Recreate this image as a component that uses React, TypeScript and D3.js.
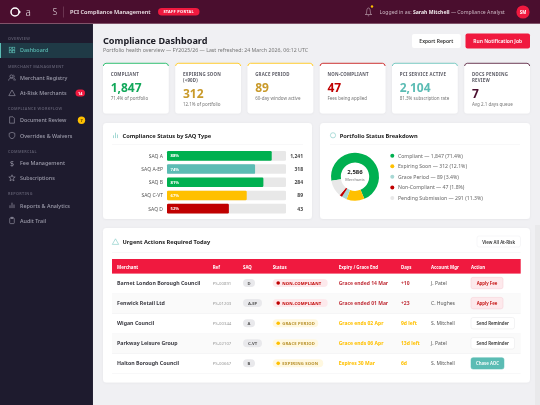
import React from "react";
import * as d3 from "d3";

const FONT = "'Noto Sans', 'Open Sans', sans-serif";

// ---- data ----
const navSections = ["OVERVIEW", "MERCHANT MANAGEMENT", "COMPLIANCE WORKFLOW", "COMMERCIAL", "REPORTING"];
const navItems = ["Dashboard", "Merchant Registry", "At-Risk Merchants", "Document Review", "Overrides & Waivers", "Fee Management", "Subscriptions", "Reports & Analytics", "Audit Trail"];
const navIcons = ["grid", "users", "tri", "doc", "shield", "dollar", "star", "bars", "clip"];

const kpiLabels = [["COMPLIANT"], ["EXPIRING SOON", "(<90D)"], ["GRACE PERIOD"], ["NON-COMPLIANT"], ["PCI SERVICE ACTIVE"], ["DOCS PENDING", "REVIEW"]];
const kpiValues = ["1,847", "312", "89", "47", "2,104", "7"];
const kpiSubs = ["71.4% of portfolio", "12.1% of portfolio", "60-day window active", "Fees being applied", "81.3% subscription rate", "Avg 2.1 days queue"];
const kpiBorders = ["#00b050", "#ffc000", "#ffc000", "#c00000", "#5bbcb4", "#4a0e2e"];
const kpiColors = ["#12a85a", "#c99a2a", "#c99a2a", "#c00000", "#5bbcb4", "#4a0e2e"];

const saqTypes = ["SAQ A", "SAQ A-EP", "SAQ B", "SAQ C-VT", "SAQ D"];
const saqPercents = [88, 74, 81, 67, 52];
const saqCounts = ["1,241", "318", "284", "89", "43"];
const saqColors = ["#00b050", "#5bbcb4", "#00b050", "#ffc000", "#c00000"];

const statusNames = ["Compliant", "Expiring Soon", "Grace Period", "Non-Compliant", "Pending Submission"];
const statusCounts = [1847, 312, 89, 47, 291];
const statusPercents = ["71.4%", "12.1%", "3.4%", "1.8%", "11.3%"];
const statusColors = ["#00b050", "#ffc000", "#a8d8d4", "#c00000", "#e8e8e8"];

const tableHeaders = ["Merchant", "Ref", "SAQ", "Status", "Expiry / Grace End", "Days", "Account Mgr", "Action"];
const merchants = ["Barnet London Borough Council", "Fenwick Retail Ltd", "Wigan Council", "Parkway Leisure Group", "Halton Borough Council"];
const refs = ["PS-00891", "PS-01203", "PS-00344", "PS-02107", "PS-00667"];
const saqs = ["D", "A-EP", "A", "C-VT", "B"];
const statuses = ["NON-COMPLIANT", "NON-COMPLIANT", "GRACE PERIOD", "GRACE PERIOD", "EXPIRING SOON"];
const expiries = ["Grace ended 14 Mar", "Grace ended 01 Mar", "Grace ends 02 Apr", "Grace ends 06 Apr", "Expires 30 Mar"];
const days = ["+10", "+23", "9d left", "13d left", "6d"];
const managers = ["J. Patel", "C. Hughes", "S. Mitchell", "J. Patel", "S. Mitchell"];
const actions = ["Apply Fee", "Apply Fee", "Send Reminder", "Send Reminder", "Chase AOC"];

// ---- layout ----
const CRIMSON = "#f0193f";
const PLUM = "#4a0e2e";
const colX = [117, 212.7, 243, 272.7, 338.7, 401, 431, 471];

const kpiX = d3.scaleBand<number>().domain(d3.range(6)).range([103, 530]).paddingInner(0.09);
const barY = d3.scaleBand<string>().domain(saqTypes).range([151, 213.5]).paddingInner(0.27);
const barX = d3.scaleLinear().domain([0, 100]).range([167, 286]);
const rowY = d3.scaleBand<string>().domain(merchants).range([273.6, 374]);
const legendY = d3.scalePoint<string>().domain(statusNames).range([155.7, 198]);

type TP = { x: number; y: number; s: number; c?: string; w?: number; a?: "start" | "middle" | "end"; ls?: number; children: React.ReactNode };
function T({ x, y, s, c = "#333", w = 400, a = "start", ls = 0, children }: TP) {
  return (
    <text x={x} y={y} fontSize={s} fill={c} fontWeight={w} textAnchor={a} letterSpacing={ls} dominantBaseline="central" fontFamily={FONT}>
      {children}
    </text>
  );
}

function Icon({ kind, x, y, c }: { kind: string; x: number; y: number; c: string }) {
  const p = { fill: "none", stroke: c, strokeWidth: 0.6 };
  const g = (ch: React.ReactNode) => <g transform={`translate(${x},${y})`}>{ch}</g>;
  switch (kind) {
    case "grid":
      return g(<g {...p}>{[[-2.8, -2.8], [0.4, -2.8], [-2.8, 0.4], [0.4, 0.4]].map((q, i) => <rect key={i} x={q[0]} y={q[1]} width={2.4} height={2.4} />)}</g>);
    case "users":
      return g(<g {...p}><circle cx={-0.6} cy={-1.6} r={1.5} /><path d="M-3.4 2.6c.3-2 1.4-2.6 2.8-2.6s2.5.6 2.8 2.6M1.4-3c1 .2 1.3 2.2 0 2.9M2.2 .2c.8.4 1.1 1.2 1.2 2.2" /></g>);
    case "tri":
      return g(<path {...p} d="M0-3L3.2 2.6H-3.2Z" strokeLinejoin="round" />);
    case "doc":
      return g(<path {...p} d="M-2.4-3.2H1L2.4-1.8V3.2H-2.4Z" />);
    case "shield":
      return g(<path {...p} d="M0-3.2L2.8-2.2V.2C2.8 1.8 1.4 2.8 0 3.2C-1.4 2.8-2.8 1.8-2.8 .2V-2.2Z" />);
    case "dollar":
      return <text x={x} y={y} fontSize={7} fill={c} textAnchor="middle" dominantBaseline="central" fontFamily={FONT}>$</text>;
    case "star":
      return g(<path {...p} d="M0-3.2L.9-1H3.2L1.4 .5L2 2.9L0 1.6L-2 2.9L-1.4 .5L-3.2-1H-.9Z" />);
    case "bars":
      return g(<g stroke={c} strokeWidth={0.7}><path d="M-2-.2V2.6M0-2.8V2.6M2-1V2.6" /></g>);
    case "clip":
      return g(<g {...p}><rect x={-2.3} y={-2.5} width={4.6} height={5.6} rx={0.8} /><rect x={-1} y={-3.3} width={2} height={1.2} /></g>);
    default:
      return null;
  }
}

function Sidebar() {
  const sectionYs = [38, 66, 108, 151, 193];
  const itemYs = [50, 78, 93, 120, 135.5, 163, 178, 205.5, 220.5];
  return (
    <g>
      <rect x={0} y={24} width={93} height={381} fill="#1e1b2e" />
      <rect x={92.5} y={24} width={0.5} height={381} fill="#2c2a3c" />
      <rect x={0} y={43} width={93} height={15} fill="#1f3a46" />
      <rect x={0} y={43} width={1} height={15} fill="#5bbcb4" />
      {navSections.map((s, i) => <T key={s} x={8} y={sectionYs[i]} s={3.8} c="#5f5d70" w={600} ls={0.35}>{s}</T>)}
      {navItems.map((it, i) => (
        <g key={it}>
          <Icon kind={navIcons[i]} x={12} y={itemYs[i]} c={i === 0 ? "#5bbcb4" : "#9d9cab"} />
          <T x={20} y={itemYs[i]} s={5.4} c={i === 0 ? "#5bbcb4" : "#9d9cab"} w={500}>{it}</T>
        </g>
      ))}
      <rect x={75.5} y={89.5} width={9.5} height={7} rx={3.5} fill={CRIMSON} />
      <T x={80.2} y={93} s={3.8} c="#fff" w={700} a="middle">14</T>
      <circle cx={81.5} cy={120.3} r={3.7} fill="#ffc000" />
      <T x={81.5} y={120.3} s={3.8} c="#4a3500" w={700} a="middle">7</T>
    </g>
  );
}

function Header() {
  return (
    <g>
      <rect x={0} y={0} width={540} height={23.5} fill={PLUM} />
      <rect x={0} y={23} width={540} height={1} fill="#6d3550" opacity={0.6} />
      <circle cx={15} cy={12} r={4} fill="none" stroke="#fff" strokeWidth={1.5} />
      <path d="M19 10.5L21 12L19 13.5Z" fill="#fff" />
      <T x={25.5} y={11.5} s={10} c="#e8dfe4" w={300}>a</T>
      <T x={52.5} y={11.5} s={8.5} c="#e8dfe4" w={300}>S</T>
      <rect x={63} y={6.5} width={0.5} height={11} fill="#8b5a72" />
      <T x={70} y={12} s={5.6} c="#efe6ea" w={600}>PCI Compliance Management</T>
      <rect x={158} y={8} width={41.5} height={7.5} rx={3.75} fill={CRIMSON} />
      <T x={178.7} y={11.9} s={3.9} c="#fff" w={700} a="middle" ls={0.3}>STAFF PORTAL</T>
      <path d="M365 14.5H372M366 14.5C367 13 366.2 8 368.5 8C370.8 8 370 13 371 14.5M367.8 15.8H369.2" fill="none" stroke="#c9b4c0" strokeWidth={0.6} />
      <circle cx={372} cy={6.5} r={1.2} fill="#ffc000" />
      <text x={379.5} y={12} fontSize={5.15} fill="#c9b4c0" dominantBaseline="central" fontFamily={FONT}>
        Logged in as: <tspan fontWeight={700} fill="#f3ecef">Sarah Mitchell</tspan> — Compliance Analyst
      </text>
      <circle cx={523} cy={12} r={6.6} fill={CRIMSON} />
      <T x={523} y={12} s={4.3} c="#fff" w={700} a="middle">SM</T>
    </g>
  );
}

function KpiCards() {
  return (
    <g>
      {kpiValues.map((v, i) => {
        const x = kpiX(i)!;
        const w = kpiX.bandwidth();
        const shift = (kpiLabels[i].length - 1) * 6;
        return (
          <g key={i}>
            <rect x={x} y={63} width={w} height={50.5} rx={3} fill="#fff" filter="url(#soft)" />
            <path d={`M${x + 0.3} 66A3 3 0 0 1 ${x + 3} 63.3H${x + w - 3}A3 3 0 0 1 ${x + w - 0.3} 66`} fill="none" stroke={kpiBorders[i]} strokeWidth={0.8} />
            {kpiLabels[i].map((l, k) => <T key={l} x={x + 7.7} y={74 + k * 6} s={4.4} c="#5c5c66" w={700} ls={0.22}>{l}</T>)}
            <T x={x + 7.7} y={87 + shift} s={12} c={kpiColors[i]} w={700}>{v}</T>
            <T x={x + 7.7} y={98 + shift} s={4.5} c="#777">{kpiSubs[i]}</T>
          </g>
        );
      })}
    </g>
  );
}

function SaqPanel() {
  return (
    <g>
      <rect x={103} y={123} width={209} height={96} rx={3.5} fill="#fff" filter="url(#soft)" />
      <Icon kind="bars" x={115.5} y={135.5} c="#7cc8c2" />
      <T x={122.5} y={135.5} s={5.7} c="#222" w={700}>Compliance Status by SAQ Type</T>
      <rect x={112} y={144} width={191} height={0.4} fill="#eeeeef" />
      {saqTypes.map((t, i) => {
        const y = barY(t)!;
        const h = barY.bandwidth();
        return (
          <g key={t}>
            <T x={163} y={y + h / 2} s={5} c="#555" a="end">{t}</T>
            <rect x={barX(0)} y={y} width={barX(100) - barX(0)} height={h} rx={1.2} fill="#e8e8e8" />
            <rect x={barX(0)} y={y} width={barX(saqPercents[i]) - barX(0)} height={h} rx={1.2} fill={saqColors[i]} />
            <T x={170.5} y={y + h / 2} s={4.2} c="#fff" w={700}>{saqPercents[i]}%</T>
            <T x={303} y={y + h / 2} s={5} c="#444" w={700} a="end">{saqCounts[i]}</T>
          </g>
        );
      })}
    </g>
  );
}

function DonutPanel() {
  const start = (-100 * Math.PI) / 180;
  const pie = d3.pie<number>().sort(null).startAngle(start).endAngle(start + 2 * Math.PI);
  const arc = d3.arc<d3.PieArcDatum<number>>().innerRadius(14.2).outerRadius(24);
  const total = d3.sum(statusCounts);
  return (
    <g>
      <rect x={320} y={123} width={210} height={96} rx={3.5} fill="#fff" filter="url(#soft)" />
      <circle cx={333} cy={135.3} r={2.6} fill="none" stroke="#7cc8c2" strokeWidth={0.6} />
      <T x={339.7} y={135.5} s={5.7} c="#222" w={700}>Portfolio Status Breakdown</T>
      <rect x={330} y={144} width={190} height={0.4} fill="#eeeeef" />
      <g transform="translate(355,176.7)">
        {pie(statusCounts).map((d, i) => <path key={i} d={arc(d) || ""} fill={statusColors[i]} />)}
      </g>
      <T x={355} y={172.3} s={6} c="#222" w={700} a="middle">{d3.format(",")(total)}</T>
      <T x={355} y={179.2} s={3.9} c="#777" a="middle">Merchants</T>
      {statusNames.map((n, i) => (
        <g key={n}>
          <circle cx={392.3} cy={legendY(n)!} r={2} fill={statusColors[i]} />
          <T x={398} y={legendY(n)!} s={5.15} c="#666">{`${n} — ${d3.format(",")(statusCounts[i])} (${statusPercents[i]})`}</T>
        </g>
      ))}
    </g>
  );
}

const statusStyle: Record<string, { bg: string; fg: string; dot: string; w: number }> = {
  "NON-COMPLIANT": { bg: "#fde9ec", fg: "#c00000", dot: "#c00000", w: 55 },
  "GRACE PERIOD": { bg: "#fff8e0", fg: "#b8902a", dot: "#ffc000", w: 45.5 },
  "EXPIRING SOON": { bg: "#fff8e0", fg: "#b8902a", dot: "#ffc000", w: 50.5 },
};
const actionStyle: Record<string, { bg: string; fg: string; line: string; w: number }> = {
  "Apply Fee": { bg: "#fde9ec", fg: "#c00000", line: "#f6c9d2", w: 32 },
  "Send Reminder": { bg: "#fff", fg: "#333", line: "#e6e6e8", w: 43.5 },
  "Chase AOC": { bg: "#5bbcb4", fg: "#fff", line: "#5bbcb4", w: 33 },
};

function ActionsPanel() {
  return (
    <g>
      <rect x={103} y={228} width={427} height={154.5} rx={3.5} fill="#fff" filter="url(#soft)" />
      <Icon kind="tri" x={115.5} y={241.8} c="#7cc8c2" />
      <T x={122.5} y={241.7} s={5.7} c="#222" w={700}>Urgent Actions Required Today</T>
      <rect x={477} y={236} width={43.5} height={11} rx={2} fill="#fff" stroke="#ededf0" strokeWidth={0.5} />
      <T x={498.7} y={241.7} s={4.4} c="#333" w={600} a="middle">View All At-Risk</T>
      <rect x={112} y={252} width={408.7} height={0.4} fill="#eeeeef" />
      <rect x={112} y={259} width={408.7} height={14.6} fill={CRIMSON} />
      {tableHeaders.map((h, i) => <T key={h} x={colX[i]} y={266.5} s={4.4} c="#fff" w={700}>{h}</T>)}
      {merchants.map((m, i) => {
        const y = rowY(m)!;
        const h = rowY.bandwidth();
        const cy = y + h / 2 - 0.6;
        const st = statusStyle[statuses[i]];
        const ac = actionStyle[actions[i]];
        const red = i < 2;
        const chipW = saqs[i].length > 1 ? 19 : 12;
        return (
          <g key={m}>
            {i % 2 === 1 && <rect x={112} y={y} width={408.7} height={h} fill="#fafafa" />}
            <rect x={112} y={y + h - 0.5} width={408.7} height={0.4} fill="#eeeeef" />
            <T x={colX[0]} y={cy} s={5.25} c="#3a3a42" w={700}>{m}</T>
            <T x={colX[1]} y={cy} s={4.3} c="#999">{refs[i]}</T>
            <rect x={colX[2]} y={cy - 4} width={chipW} height={8} rx={4} fill="#e9e9ec" />
            <T x={colX[2] + chipW / 2} y={cy} s={4.2} c="#555" w={700} a="middle">{saqs[i]}</T>
            <rect x={colX[3]} y={cy - 4} width={st.w} height={8} rx={4} fill={st.bg} />
            <circle cx={colX[3] + 5.5} cy={cy} r={1.8} fill={st.dot} />
            <T x={colX[3] + 9.5} y={cy} s={4.2} c={st.fg} w={700} ls={0.2}>{statuses[i]}</T>
            <T x={colX[4]} y={cy} s={5} c={red ? "#c0303a" : "#ffc000"} w={700}>{expiries[i]}</T>
            <T x={colX[5]} y={cy} s={5} c={red ? "#c0303a" : "#ffc000"} w={700}>{days[i]}</T>
            <T x={colX[6]} y={cy} s={5} c="#555">{managers[i]}</T>
            <rect x={colX[7]} y={cy - 5.7} width={ac.w} height={11.4} rx={2} fill={ac.bg} stroke={ac.line} strokeWidth={0.5} />
            <T x={colX[7] + ac.w / 2} y={cy} s={4.4} c={ac.fg} w={600} a="middle">{actions[i]}</T>
          </g>
        );
      })}
    </g>
  );
}

export default function App() {
  return (
    <svg width={540} height={405} viewBox="0 0 540 405" style={{ position: "fixed", left: 0, top: 0, display: "block", filter: "blur(0.22px)" }}>
      <defs>
        <filter id="soft" x="-5%" y="-5%" width="110%" height="115%">
          <feDropShadow dx={0} dy={0.4} stdDeviation={0.8} floodColor="#000" floodOpacity={0.05} />
        </filter>
      </defs>
      <rect x={0} y={0} width={540} height={405} fill="#f0f0f3" />
      <rect x={535} y={225} width={5} height={180} fill="#e9e9eb" />
      <Header />
      <Sidebar />
      <T x={103} y={40} s={9.1} c="#1d1d26" w={700}>Compliance Dashboard</T>
      <T x={103} y={50} s={5.25} c="#777">Portfolio health overview — FY2025/26 — Last refreshed: 24 March 2026, 06:12 UTC</T>
      <rect x={412} y={34} width={48.7} height={14} rx={2} fill="#fff" />
      <T x={436.3} y={41} s={5} c="#333" w={600} a="middle">Export Report</T>
      <rect x={465.5} y={33.5} width={64.5} height={15} rx={2} fill={CRIMSON} />
      <T x={497.7} y={41} s={5} c="#fff" w={600} a="middle">Run Notification Job</T>
      <KpiCards />
      <SaqPanel />
      <DonutPanel />
      <ActionsPanel />
    </svg>
  );
}
